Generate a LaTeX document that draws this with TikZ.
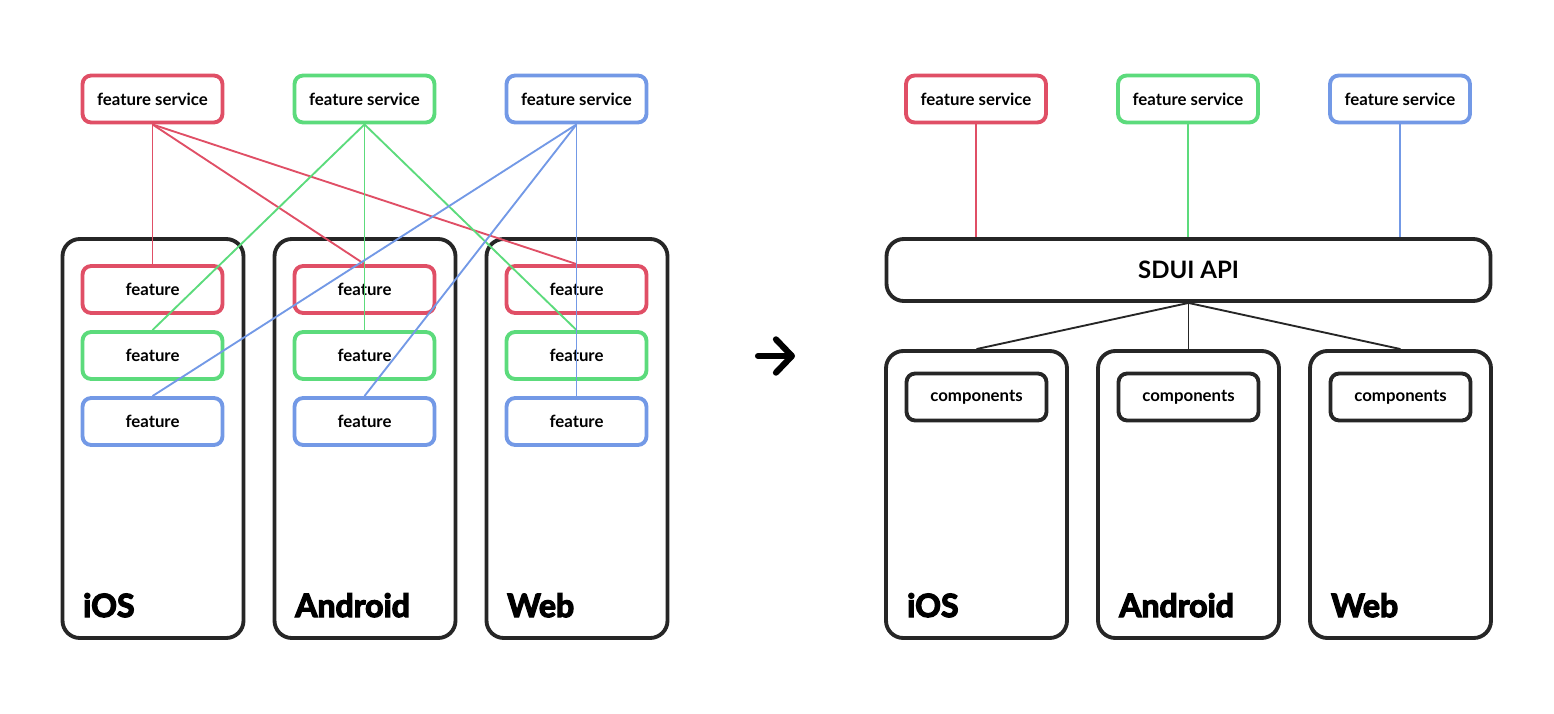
\documentclass[tikz,border=0pt]{standalone}
\usepackage{fontspec}
\setmainfont{Lato}
\newfontfamily\heavyfont{Lato}[BoldFeatures={FakeBold=4}]
\usetikzlibrary{arrows.meta}
\definecolor{fsred}{HTML}{E04F66}
\definecolor{fsgreen}{HTML}{5CDB7C}
\definecolor{fsblue}{HTML}{7399E6}
\definecolor{boxblack}{HTML}{262626}
\begin{document}
\begin{tikzpicture}[x=0.75pt,y=-0.75pt,
	smallbox/.style={draw,line width=2.9pt,rounded corners=6.5pt,fill=white,
		minimum width=105pt,minimum height=35.25pt,inner sep=0pt,
		font=\bfseries\fontsize{12.6}{14}\selectfont},
	platbox/.style={draw=boxblack,line width=2.9pt,rounded corners=13pt,
		minimum width=135.75pt,inner sep=0pt},
	platlabel/.style={anchor=base west,inner sep=0pt,
		font=\heavyfont\bfseries\fontsize{24}{28}\selectfont},
	link/.style={line width=1.4pt}]
		\useasboundingbox (0,0) rectangle (1554,714);

		%left platforms
		\node[platbox,minimum height=299.25pt] (p1) at (153,438.5) {};
		\node[platbox,minimum height=299.25pt] (p2) at (365,438.5) {};
		\node[platbox,minimum height=299.25pt] (p3) at (577,438.5) {};
		\node[platlabel] (l1) at (83,617) {iOS};
		\node[platlabel] (l2) at (295,617) {Android};
		\node[platlabel] (l3) at (507,617) {Web};

		%left services
		\node[smallbox,draw=fsred] (s1) at (152.5,99) {feature service};
		\node[smallbox,draw=fsgreen] (s2) at (364.5,99) {feature service};
		\node[smallbox,draw=fsblue] (s3) at (576.5,99) {feature service};

		%features
		\node[smallbox,draw=fsred] (f1) at (152.5,289.5) {feature};
		\node[smallbox,draw=fsgreen] (f2) at (152.5,355.5) {feature};
		\node[smallbox,draw=fsblue] (f3) at (152.5,421.5) {feature};
		\node[smallbox,draw=fsred] (f4) at (364.5,289.5) {feature};
		\node[smallbox,draw=fsgreen] (f5) at (364.5,355.5) {feature};
		\node[smallbox,draw=fsblue] (f6) at (364.5,421.5) {feature};
		\node[smallbox,draw=fsred] (f7) at (576.5,289.5) {feature};
		\node[smallbox,draw=fsgreen] (f8) at (576.5,355.5) {feature};
		\node[smallbox,draw=fsblue] (f9) at (576.5,421.5) {feature};

		%left edges
		\draw[link,fsred] (s1.south) -- (f1.north);
		\draw[link,fsred] (s1.south) -- (f4.north);
		\draw[link,fsred] (s1.south) -- (f7.north);
		\draw[link,fsgreen] (s2.south) -- (f2.north);
		\draw[link,fsgreen] (s2.south) -- (f5.north);
		\draw[link,fsgreen] (s2.south) -- (f8.north);
		\draw[link,fsblue] (s3.south) -- (f3.north);
		\draw[link,fsblue] (s3.south) -- (f6.north);
		\draw[link,fsblue] (s3.south) -- (f9.north);

		%arrow
		\coordinate (a1) at (758,356);
		\coordinate (a2) at (795,356);
		\draw[line width=4.6pt,line cap=round,-{Straight Barb[length=12pt 0,width=25pt 0,round]}] (a1) -- (a2);

		%right services
		\node[smallbox,draw=fsred] (s4) at (976,99) {feature service};
		\node[smallbox,draw=fsgreen] (s5) at (1188,99) {feature service};
		\node[smallbox,draw=fsblue] (s6) at (1400,99) {feature service};

		%api
		\node[draw=boxblack,line width=2.9pt,rounded corners=13pt,minimum width=453pt,
			minimum height=46.5pt,font=\bfseries\fontsize{18}{20}\selectfont] (api) at (1188.5,270) {SDUI API};

		%right platforms
		\node[platbox,minimum height=215.25pt] (p4) at (976.5,494.5) {};
		\node[platbox,minimum height=215.25pt] (p5) at (1188.5,494.5) {};
		\node[platbox,minimum height=215.25pt] (p6) at (1400.5,494.5) {};
		\node[platlabel] (l4) at (907,617) {iOS};
		\node[platlabel] (l5) at (1119,617) {Android};
		\node[platlabel] (l6) at (1331,617) {Web};
		\node[smallbox,draw=boxblack] (c1) at (976.5,397) {components};
		\node[smallbox,draw=boxblack] (c2) at (1188.5,397) {components};
		\node[smallbox,draw=boxblack] (c3) at (1400.5,397) {components};

		%right edges
		\draw[link,fsred] (s4.south) -- (s4.south |- api.north);
		\draw[link,fsgreen] (s5.south) -- (s5.south |- api.north);
		\draw[link,fsblue] (s6.south) -- (s6.south |- api.north);
		\draw[link,boxblack] (api.south) -- (p4.north);
		\draw[link,boxblack] (api.south) -- (p5.north);
		\draw[link,boxblack] (api.south) -- (p6.north);
\end{tikzpicture}
\end{document}
